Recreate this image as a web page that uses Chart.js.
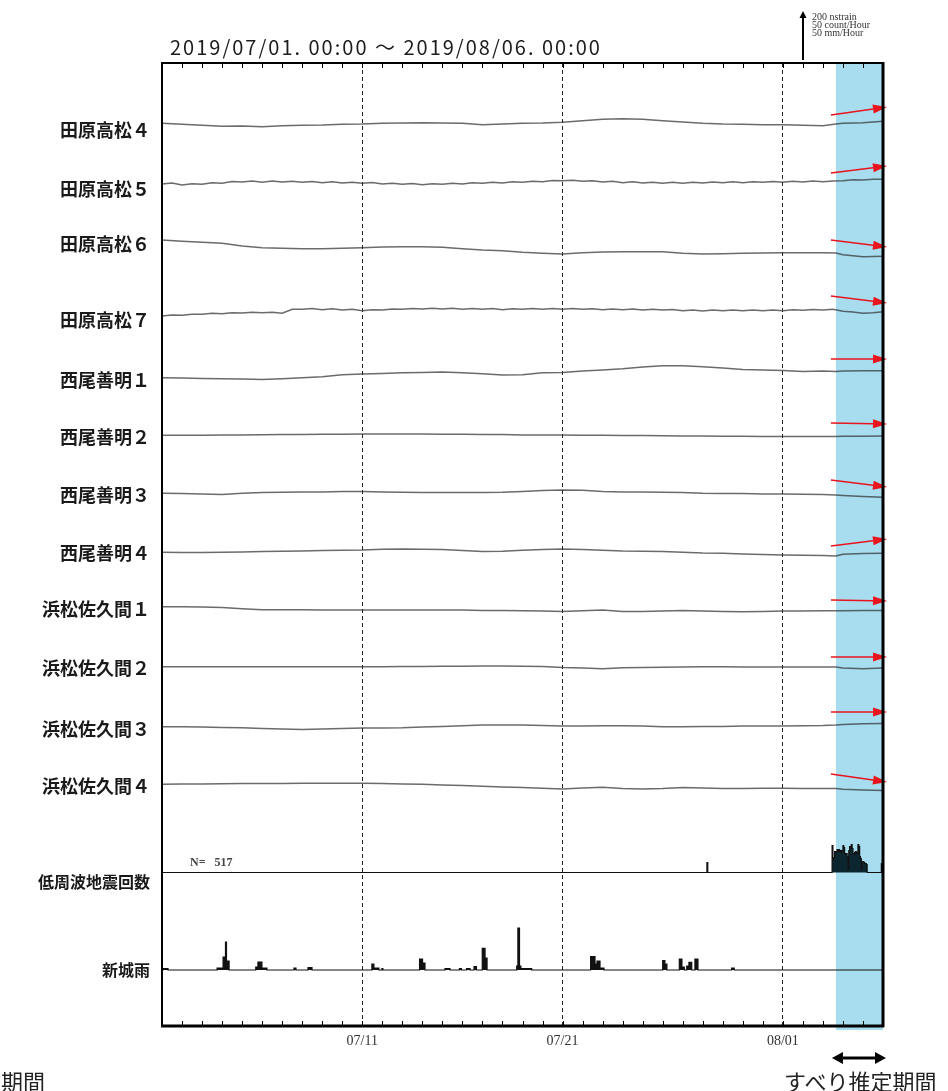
<!DOCTYPE html>
<html>
<head>
<meta charset="utf-8">
<script src="https://cdn.jsdelivr.net/npm/chart.js@4.4.0/dist/chart.umd.min.js"></script>
<style>
  html, body { margin: 0; padding: 0; background: #fff; }
  #wrap { position: relative; width: 948px; height: 1091px; overflow: hidden; }
  #c { position: absolute; left: 0; top: 0; }
  .t { position: absolute; white-space: pre; color: #222; line-height: 1; }
</style>
</head>
<body>
<div id="wrap">
  <canvas id="c" width="948" height="1091"></canvas>
  <div class="t" style="left:170px; top:32px; font: 20px 'Noto Sans CJK JP'; letter-spacing: 2px; color:#1c1c1c;">2019/07/01. 00:00 〜 2019/08/06. 00:00</div>
  <div class="t" style="left:812px; top:11px; font: 10px 'Liberation Serif'; color:#333;">200 nstrain</div>
  <div class="t" style="left:812px; top:19px; font: 10px 'Liberation Serif'; color:#333;">50 count/Hour</div>
  <div class="t" style="left:812px; top:27px; font: 10px 'Liberation Serif'; color:#333;">50 mm/Hour</div>
  <div class="t" style="left:190px; top:855px; font: bold 12px 'Liberation Serif'; color:#444;">N=   517</div>
  <div class="t" style="left:1px; top:1064px; font: 22px 'Noto Sans CJK JP';">期間</div>
  <div class="t" style="left:784px; top:1064px; font: 22px 'Noto Sans CJK JP';">すべり推定期間</div>
</div>
<script>
// ---- time grid (days since 2019/07/01 00:00) ----
const days = [0,1,2,3,4,5,6,7,8,9,10,11,12,13,14,15,16,17,18,19,20,21,22,23,24,25,26,27,28,29,30,31,32,33,33.65,34,35,36];
const halfDays = [0,0.5,1,1.5,2,2.5,3,3.5,4,4.5,5,5.5,6,6.5,7,7.5,8,8.5,9,9.5,10,10.5,11,11.5,12,12.5,13,13.5,14,14.5,15,15.5,16,16.5,17,17.5,18,18.5,19,19.5,20,20.5,21,21.5,22,22.5,23,23.5,24,24.5,25,25.5,26,26.5,27,27.5,28,28.5,29,29.5,30,30.5,31,31.5,32,32.5,33,33.5,34,34.5,35,35.5,36];

// ---- strain records (nstrain, relative to each record's start level) ----
const tahara4 = [3,-1,-5,-9,-8,-11,-7,-5,-4,-1,0,3,4,5,4,3,-3,0,3,4,7,13,19,21,19,13,8,3,0,-1,-3,-3,-5,-7,0,3,5,11];
const tahara5 = [-4,0,-8,-3,-5,1,-1,6,4,8,3,8,4,7,3,6,1,5,0,3,-1,2,-4,-1,-5,-2,-7,-3,-5,-1,-4,1,-1,3,0,5,3,7,5,10,9,11,7,9,4,7,1,5,0,3,-1,3,-1,3,0,4,1,5,1,5,3,6,3,7,4,8,5,8,9,13,12,15,15];
const tahara6 = [4,-1,-5,-9,-20,-27,-29,-31,-31,-29,-27,-24,-23,-23,-25,-31,-36,-39,-45,-49,-52,-47,-44,-43,-43,-43,-49,-52,-51,-49,-48,-47,-47,-47,-48,-55,-63,-61];
const tahara7 = [-4,0,-1,3,3,7,5,9,8,11,9,11,7,23,23,26,21,25,20,23,17,21,20,24,23,26,24,27,24,27,23,26,23,26,21,25,23,26,23,26,23,26,23,25,21,24,21,24,20,23,20,22,17,20,16,20,17,20,17,20,17,20,17,21,19,22,20,23,15,12,7,9,13];
const nishio1 = [0,-1,-3,-4,-5,-7,-4,0,4,12,15,17,20,21,23,20,16,11,12,20,21,27,31,36,43,48,48,44,39,33,31,29,25,27,25,27,28,28];
const nishio2 = [0,0,0,1,1,2,3,3,4,4,5,5,5,5,4,4,3,3,1,1,1,0,0,-1,-1,-2,-3,-3,-4,-4,-5,-5,-5,-5,-5,-4,-4,-3];
const nishio3 = [0,-1,-3,-5,0,3,4,5,5,7,7,5,4,3,3,3,3,4,7,11,13,12,7,5,5,4,3,0,-1,-1,-3,-3,-4,-5,-7,-9,-13,-16];
const nishio4 = [0,-1,-1,0,1,3,4,5,7,8,9,12,13,12,11,7,3,4,8,11,13,11,8,5,4,3,0,-3,-4,-7,-9,-11,-12,-13,-15,-8,-5,-4];
const sakuma1 = [0,0,-1,-3,-8,-12,-12,-12,-13,-13,-13,-13,-13,-13,-13,-13,-15,-15,-16,-17,-19,-16,-13,-19,-19,-17,-15,-17,-19,-20,-19,-17,-17,-16,-16,-16,-15,-15];
const sakuma2 = [0,0,0,0,0,0,0,0,0,0,0,0,1,1,2,2,3,3,2,1,-3,-5,-8,-4,-3,-2,-1,0,0,-1,-1,-1,-1,-1,-1,-5,-8,-5];
const sakuma3 = [0,0,-1,-3,-4,-7,-9,-11,-9,-7,-5,-5,-4,-1,1,4,7,7,7,5,3,3,4,4,3,0,0,1,1,3,3,3,4,5,7,9,12,13];
const sakuma4 = [0,1,1,2,3,3,3,4,4,4,4,3,1,0,-3,-5,-8,-11,-13,-16,-19,-15,-12,-17,-19,-17,-13,-15,-17,-17,-16,-16,-17,-17,-17,-20,-23,-25];

// ---- low-frequency tremor counts (hours since 07/01 00:00, count per hour) ----
const lfeHours = [0,653,654,803,804,805,806,807,808,809,810,811,812,813,814,815,816,817,818,819,820,821,822,823,824,825,826,827,828,829,830,831,832,833,834,835,836,837,838,839,840,841,842,843,844,845,862,863,864];
const lfeCounts = [0,10,0,27,13,15,21,21,20,23,22,23,21,22,20,22,27,25,19,18,19,16,3,22,26,25,28,24,19,18,20,21,20,19,28,26,16,14,3,11,11,10,9,9,8,0,9,0,0];

// ---- rainfall at Shinshiro (day, mm/hour; each value holds until the next day) ----
const rainDays = [0,0.05,0.3,2.75,3.05,3.17,3.22,3.35,4.68,4.79,4.99,5.24,6.59,6.69,7.29,7.49,10.48,10.58,10.83,10.98,11.03,12.86,13.01,13.13,14.13,14.38,14.85,14.95,15.21,15.38,15.58,15.7,15.99,16.13,16.23,17.71,17.77,17.85,17.92,18.46,21.4,21.62,21.72,21.87,22.07,25.0,25.11,25.21,25.83,25.96,26.08,26.2,26.31,26.45,26.61,26.76,28.44,28.57,36];
const rainMm   = [0,1.5,0,2,13,28,9,0,3,8,2,0,2,0,2.5,0,6,2,0,1.5,0,11,7,0,1.5,0,1.5,0,1.5,0,3.3,0,21.7,12,0,4,42,4,1.5,0,13.3,6,9,2,0,9.3,6,0,11,3,0,4,7.7,0,11,0,2,0,0];

// ---- labels and axis text ----
const stationLabels = ['田原高松４','田原高松５','田原高松６','田原高松７','西尾善明１','西尾善明２','西尾善明３','西尾善明４','浜松佐久間１','浜松佐久間２','浜松佐久間３','浜松佐久間４','低周波地震回数','新城雨'];
const dateTicks = [10, 20, 31];
const dateLabels = ['07/11', '07/21', '08/01'];
const slipPeriod = [33.65, 36];

// estimated slip direction per record: [start, end] in nstrain
const slipArrows = [[36,68],[40,68],[4,-24],[76,48],[75,75],[49,45],[53,25],[25,53],[27,23],[39,39],[59,59],[41,9]];
const arrowSpan = [33.4, 36.2];

// ---- layout ----
const PLOT = { left: 162, right: 883, top: 63, bottom: 1026 };
const UNITS_PER_PX = 4;            // 200 nstrain = 50 count/h = 50 mm/h = 50 px
const PER_COUNT = 4;               // vertical units for one count or one mm
const rowBaseY = [124,183,241,315,377.7,435.3,493.3,552.3,606.7,666.7,726.7,784.3,872.5,970];
const labelRowY = [130,189,244,320,380,437,495,553,609,668,729,786,882,970];
const toUnits = py => (PLOT.bottom - py) * UNITS_PER_PX;
const base = rowBaseY.map(toUnits);

const traces = [
  [days, tahara4], [halfDays, tahara5], [days, tahara6], [halfDays, tahara7],
  [days, nishio1], [days, nishio2], [days, nishio3], [days, nishio4],
  [days, sakuma1], [days, sakuma2], [days, sakuma3], [days, sakuma4]
];

const traceColor = 'rgba(50,50,50,0.72)';
const datasets = traces.map(([xs, ys], i) => ({
  type: 'line',
  data: ys.map((v, k) => ({ x: xs[k], y: base[i] + v })),
  borderColor: traceColor,
  borderWidth: 1.6,
  pointRadius: 0,
  tension: 0,
  fill: false
}));

datasets.push({
  type: 'line',
  data: lfeCounts.map((v, k) => ({ x: lfeHours[k] / 24, y: base[12] + v * PER_COUNT })),
  stepped: true,
  borderColor: '#111',
  borderWidth: 1.2,
  backgroundColor: '#0c2630',
  pointRadius: 0,
  fill: { value: base[12] }
});
datasets.push({
  type: 'line',
  data: rainMm.map((v, k) => ({ x: rainDays[k], y: base[13] + v * PER_COUNT })),
  stepped: true,
  borderColor: '#111',
  borderWidth: 1.2,
  backgroundColor: '#111',
  pointRadius: 0,
  fill: { value: base[13] }
});

function drawArrow(ctx, x1, y1, x2, y2, head, half) {
  const a = Math.atan2(y2 - y1, x2 - x1);
  const bx = x2 - head * Math.cos(a), by = y2 - head * Math.sin(a);
  ctx.beginPath(); ctx.moveTo(x1, y1); ctx.lineTo(bx, by); ctx.stroke();
  ctx.beginPath();
  ctx.moveTo(x2, y2);
  ctx.lineTo(bx + half * Math.sin(a), by - half * Math.cos(a));
  ctx.lineTo(bx - half * Math.sin(a), by + half * Math.cos(a));
  ctx.closePath(); ctx.fill();
}

const decor = {
  id: 'decor',
  beforeDatasetsDraw(chart) {
    const { ctx, chartArea: a, scales: { x } } = chart;
    const x0 = x.getPixelForValue(slipPeriod[0]), x1 = x.getPixelForValue(slipPeriod[1]);
    ctx.save();
    ctx.fillStyle = '#a8ddf0';
    ctx.fillRect(x0, a.top - 1, x1 - x0, a.bottom - a.top + 5);
    ctx.restore();
  },
  afterDatasetsDraw(chart) {
    const { ctx, chartArea: a, scales: { x, y } } = chart;
    ctx.save();
    // slip direction arrows
    ctx.strokeStyle = '#e8141e'; ctx.fillStyle = '#e8141e'; ctx.lineWidth = 1.6;
    slipArrows.forEach(([s, e], i) => {
      drawArrow(ctx, x.getPixelForValue(arrowSpan[0]), y.getPixelForValue(base[i] + s),
                     x.getPixelForValue(arrowSpan[1]), y.getPixelForValue(base[i] + e), 14, 4.5);
    });
    // frame
    ctx.strokeStyle = '#000'; ctx.fillStyle = '#000';
    ctx.lineWidth = 2;
    ctx.beginPath(); ctx.moveTo(a.left, a.top); ctx.lineTo(a.right, a.top); ctx.stroke();
    ctx.beginPath(); ctx.moveTo(a.left, a.top - 1); ctx.lineTo(a.left, a.bottom + 1); ctx.stroke();
    ctx.lineWidth = 3;
    ctx.beginPath(); ctx.moveTo(a.right, a.top - 1); ctx.lineTo(a.right, a.bottom + 1); ctx.stroke();
    ctx.beginPath(); ctx.moveTo(a.left - 1, a.bottom); ctx.lineTo(a.right + 1, a.bottom); ctx.stroke();
    // daily ticks, top and bottom, pointing inward
    ctx.lineWidth = 1;
    for (let d = 1; d < 36; d++) {
      const px = Math.round(x.getPixelForValue(d)) + 0.5;
      ctx.beginPath(); ctx.moveTo(px, a.top); ctx.lineTo(px, a.top + 5); ctx.stroke();
      ctx.beginPath(); ctx.moveTo(px, a.bottom); ctx.lineTo(px, a.bottom - 5); ctx.stroke();
    }
    // scale arrow (200 nstrain / 50 count / 50 mm)
    ctx.lineWidth = 2;
    const sx = 803, sy = a.top - 3;
    drawArrow(ctx, sx, sy, sx, sy - 200 / UNITS_PER_PX + 1, 7, 3.5);
    // slip period marker under the axis
    ctx.lineWidth = 3;
    const p0 = x.getPixelForValue(slipPeriod[0]) - 4, p1 = x.getPixelForValue(slipPeriod[1]) + 3;
    const my = a.bottom + 32;
    drawArrow(ctx, (p0 + p1) / 2, my, p1, my, 11, 6);
    drawArrow(ctx, (p0 + p1) / 2, my, p0, my, 11, 6);
    ctx.restore();
  }
};

new Chart(document.getElementById('c'), {
  type: 'line',
  data: { datasets },
  options: {
    responsive: false,
    animation: false,
    events: [],
    layout: { padding: { left: 0, right: 948 - PLOT.right, top: PLOT.top, bottom: 1091 - PLOT.bottom - 30 } },
    plugins: { legend: { display: false }, tooltip: { enabled: false } },
    scales: {
      x: {
        type: 'linear', min: 0, max: 36,
        afterFit: s => { s.height = 30; },
        afterBuildTicks: s => { s.ticks = dateTicks.map(v => ({ value: v })); },
        ticks: {
          autoSkip: false, maxRotation: 0, padding: 7,
          color: '#333', font: { family: 'Liberation Serif', size: 14 },
          callback: (v, i) => dateLabels[i]
        },
        grid: { display: true, drawTicks: false, color: '#222', lineWidth: 1 },
        border: { display: false, dash: [4, 3] }
      },
      y: {
        type: 'linear', min: 0, max: (PLOT.bottom - PLOT.top) * UNITS_PER_PX,
        afterFit: s => { s.width = PLOT.left; },
        afterBuildTicks: s => { s.ticks = labelRowY.map(py => ({ value: toUnits(py) })); },
        ticks: {
          autoSkip: false, padding: 12,
          color: '#1a1a1a',
          font: c => ({ family: 'Noto Sans CJK JP', size: c.index < 12 ? 18 : 16, weight: 'bold' }),
          callback: (v, i) => stationLabels[i]
        },
        grid: { display: false, drawTicks: false },
        border: { display: false }
      }
    }
  },
  plugins: [decor]
});
</script>
</body>
</html>
